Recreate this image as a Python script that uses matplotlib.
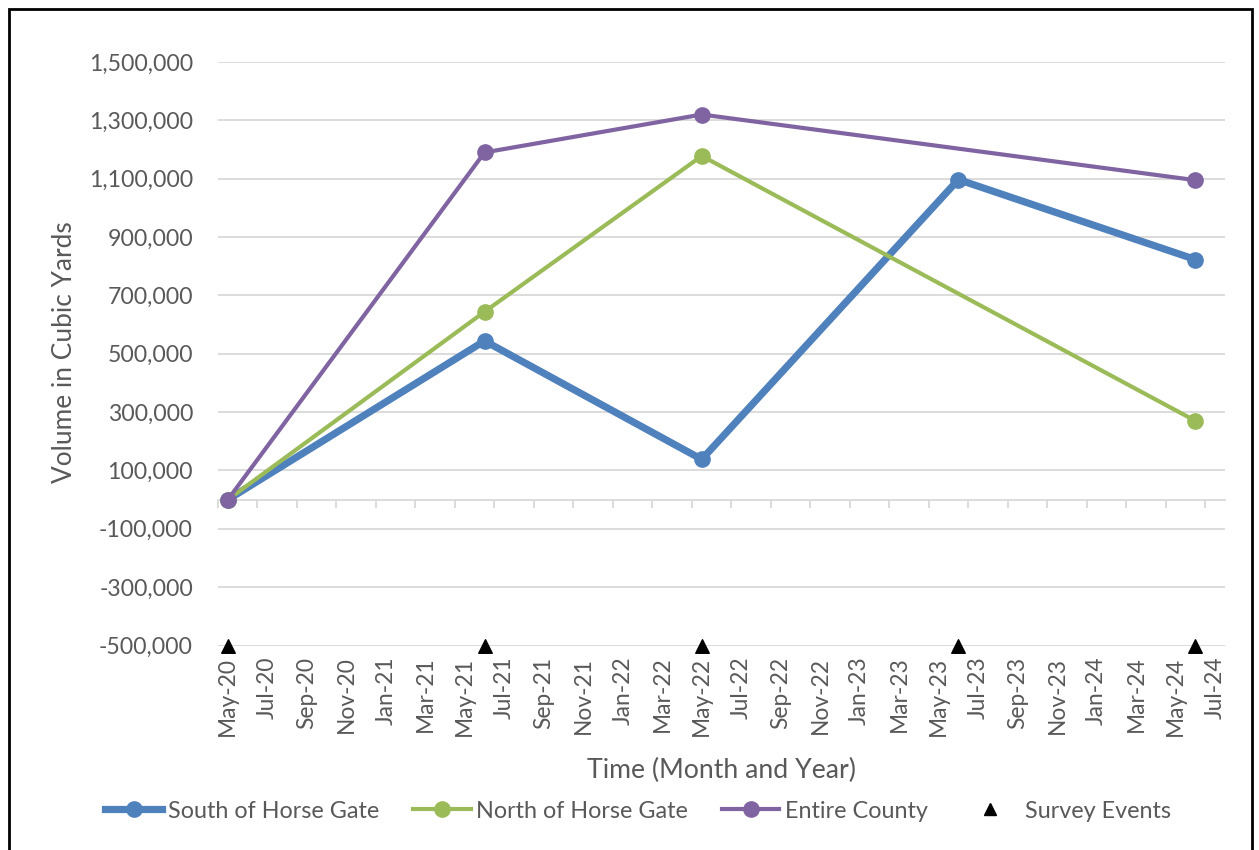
import matplotlib
matplotlib.use("Agg")
import matplotlib.pyplot as plt
from matplotlib.lines import Line2D
from matplotlib.patches import Rectangle
from matplotlib.ticker import FuncFormatter
import numpy as np
import pandas as pd

# Survey dates (month resolution) and measured volumes in cubic yards
survey_months = ["2020-05", "2021-06", "2022-05", "2023-06", "2024-06"]
south_of_horse_gate = [0, 544000, 138000, 1097000, 823000]
north_of_horse_gate = [0, 644000, 1178000, np.nan, 270000]
entire_county = [0, 1190000, 1320000, np.nan, 1095000]

series_names = ["South of Horse Gate", "North of Horse Gate", "Entire County"]
survey_label = "Survey Events"

axis_first_month = "2020-05"
axis_last_month = "2024-07"
y_ticks = list(range(-500000, 1500001, 200000))

# Month-based date axis
start = pd.Period(axis_first_month, freq="M")
end = pd.Period(axis_last_month, freq="M")


def month_index(p):
    return (pd.Period(p, freq="M") - start).n


x = np.array([month_index(m) for m in survey_months])
n_months = (end - start).n
label_pos = np.arange(0, n_months + 1, 2)
x_labels = [(start + int(i)).strftime("%b-%y") for i in label_pos]

TEXT = "#595959"
GRID = "#D9D9D9"
colors = ["#4F81BD", "#9BBB59", "#8064A2"]
widths = [5.2, 3.0, 3.0]
FONT = "Lato"
plt.rcParams["font.family"] = [FONT, "DejaVu Sans"]

W, H = 1259, 850
fig = plt.figure(figsize=(W / 100, H / 100), dpi=100)
ax = fig.add_axes([218 / W, 1 - 645.5 / H, (1225 - 218) / W, (645.5 - 62) / H])

for vals, color, lw in zip([south_of_horse_gate, north_of_horse_gate, entire_county],
                           colors, widths):
    v = np.asarray(vals, dtype=float)
    m = ~np.isnan(v)
    ax.plot(x[m], v[m], color=color, lw=lw, marker="o", ms=11,
            solid_joinstyle="round", zorder=3)

# Survey event markers along the bottom of the plot
ax.scatter(x, np.zeros(len(x)), transform=ax.get_xaxis_transform(),
           marker="^", s=95, color="black", clip_on=False, zorder=4)

ax.set_xlim(-0.5, n_months + 0.5)
ax.set_ylim(y_ticks[0], y_ticks[-1])
ax.set_yticks(y_ticks)
ax.yaxis.set_major_formatter(FuncFormatter(lambda v, p: f"{int(v):,}"))
ax.yaxis.grid(True, color=GRID, lw=1.3)
ax.set_axisbelow(True)
ax.tick_params(axis="y", length=0, pad=18, labelsize=16.6, labelcolor=TEXT)

for s in ["top", "right", "left"]:
    ax.spines[s].set_visible(False)

# Horizontal axis line crosses at zero, with month-boundary tick marks
ax.spines["bottom"].set_position(("data", 0))
ax.spines["bottom"].set_color(GRID)
ax.spines["bottom"].set_linewidth(1.3)
ax.set_xticks(label_pos - 0.5)
ax.tick_params(axis="x", direction="out", length=6, width=1.3, color=GRID,
               labelbottom=False)

# Date labels sit at the bottom of the plot area
sec = ax.secondary_xaxis("bottom")
sec.set_xticks(label_pos, labels=x_labels)
sec.tick_params(axis="x", length=0, pad=8, labelsize=16.4, labelcolor=TEXT,
                rotation=90)
sec.spines["bottom"].set_visible(False)

fig.text(65 / W, 1 - 352 / H, "Volume in Cubic Yards", rotation=90,
         ha="center", va="center", fontsize=18.9, color=TEXT)
fig.text(721.5 / W, 1 - 770 / H, "Time (Month and Year)",
         ha="center", va="center", fontsize=19.2, color=TEXT)

handles = [Line2D([], [], color=c, lw=lw, marker="o", ms=11)
           for c, lw in zip(colors, widths)]
handles.append(Line2D([], [], color="black", lw=0, marker="^", ms=8))
leg = fig.legend(handles, series_names + [survey_label], loc="center",
                 bbox_to_anchor=(638 / W, 1 - 811 / H), ncol=4, frameon=False,
                 fontsize=16.8, handlelength=2.45, handletextpad=0.25,
                 columnspacing=1.45, labelcolor=TEXT)

# Chart border
fig.add_artist(Rectangle((9 / W, -0.02), (1252 - 9) / W, 1.02 - 9 / H,
                         transform=fig.transFigure, fill=False,
                         edgecolor="black", lw=2, clip_on=False))

fig.savefig("out.png", dpi=100)
